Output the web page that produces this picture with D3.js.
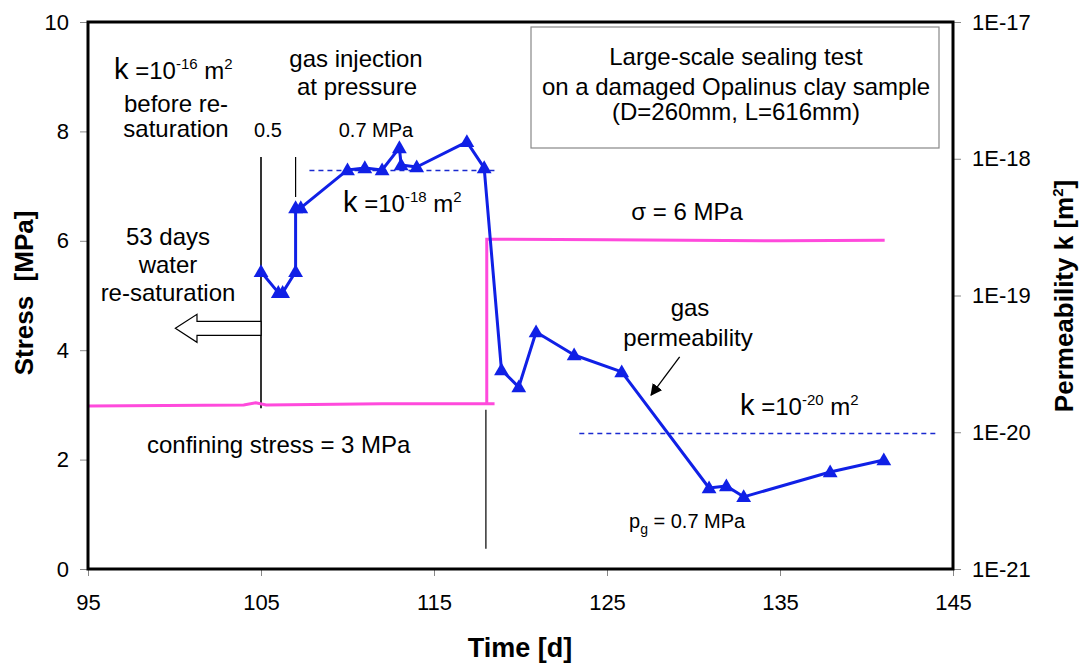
<!DOCTYPE html>
<html>
<head>
<meta charset="utf-8">
<script src="https://cdn.jsdelivr.net/npm/d3@7"></script>
<style>
  body { margin: 0; background: #fff; }
  text { font-family: "Liberation Sans", Arial, sans-serif; fill: #000; }
</style>
</head>
<body>
<div id="root"></div>
<script>
// Gas permeability measurements (time in days, k in m^2)
const permTime = [105.0, 106.0, 106.25, 107.0, 107.0, 107.3, 110.0, 111.0, 112.0, 113.0, 113.1, 114.0,
  116.9, 117.9, 118.9, 119.9, 120.9, 123.1, 125.85, 130.9, 131.9, 132.9, 137.9, 141.0];
const permK = [1.49e-19, 1.05e-19, 1.05e-19, 1.49e-19, 4.37e-19, 4.37e-19, 8.28e-19, 8.57e-19, 8.28e-19,
  1.20e-18, 9.0e-19, 8.7e-19, 1.33e-18, 8.57e-19, 2.85e-20, 2.14e-20, 5.41e-20, 3.67e-20, 2.76e-20,
  3.91e-21, 4.05e-21, 3.37e-21, 5.12e-21, 6.27e-21];

// Confining stress (MPa), null = gap
const stressTime = [95, 104, 104.7, 105.3, 112, 118.5, null, 118.05, 118.05, 125, 135, 141.05];
const stressVal = [2.98, 3.0, 3.04, 3.0, 3.02, 3.02, null, 3.02, 6.03, 6.02, 6.0, 6.01];

// reference permeability levels [k, tStart, tEnd]
const refK = [8.2e-19, 9.8e-21];
const refStart = [107.8, 123.4];
const refEnd = [118.6, 144.2];

// vertical marker lines (time, stress from, stress to)
const markerT = [105, 107, 118];
const markerFrom = [2.94, 6.8, 0.37];
const markerTo = [7.53, 7.53, 2.91];

// axis ticks
const timeTicks = [95, 105, 115, 125, 135, 145];
const stressTicks = [0, 2, 4, 6, 8, 10];
const permTicks = [1e-21, 1e-20, 1e-19, 1e-18, 1e-17];
const permTickLabels = ["1E-21", "1E-20", "1E-19", "1E-18", "1E-17"];

const W = 1083, H = 663;
const margin = { left: 88, right: 130, top: 22, bottom: 94 };
const iw = W - margin.left - margin.right;
const ih = H - margin.top - margin.bottom;

const svg = d3.select("#root").append("svg")
  .attr("width", W).attr("height", H);
const g = svg.append("g").attr("transform", `translate(${margin.left},${margin.top})`);

const x = d3.scaleLinear().domain([95, 145]).range([0, iw]);
const y = d3.scaleLinear().domain([0, 10]).range([ih, 0]);
const yk = d3.scaleLog().domain([1e-21, 1e-17]).range([ih, 0]);

const BLUE = "#1020e6";
const PINK = "#ff4adc";

// axes
const axL = g.append("g").call(d3.axisLeft(y).tickValues(stressTicks).tickSize(8).tickPadding(11));
const axB = g.append("g").attr("transform", `translate(0,${ih})`)
  .call(d3.axisBottom(x).tickValues(timeTicks).tickSize(7).tickPadding(18));
const axR = g.append("g").attr("transform", `translate(${iw},0)`)
  .call(d3.axisRight(yk).tickValues(permTicks).tickFormat((d, i) => permTickLabels[i]).tickSize(8).tickPadding(11));
[axL, axB, axR].forEach(a => {
  a.select(".domain").remove();
  a.selectAll(".tick line").attr("stroke", "#888").attr("stroke-width", 1);
  a.selectAll(".tick text").style("font-size", "22px").style("font-family", "Liberation Sans, Arial, sans-serif");
});

// marker lines
markerT.forEach((t, i) => {
  g.append("line")
    .attr("x1", x(t)).attr("x2", x(t))
    .attr("y1", y(markerFrom[i])).attr("y2", y(markerTo[i]))
    .attr("stroke", "#000").attr("stroke-width", i === 0 ? 1.6 : 1.2);
});

// hollow arrow pointing left (53 days re-saturation)
{
  const yc = y(4.4), tip = x(100.05), base = x(101.3), tail = x(105);
  const pts = [[tip, yc], [base, yc - 14], [base, yc - 7], [tail, yc - 7], [tail, yc + 7], [base, yc + 7], [base, yc + 14]];
  g.append("path").attr("d", d3.line()(pts) + "Z")
    .attr("fill", "#fff").attr("stroke", "#000").attr("stroke-width", 1.2);
}

// confining stress line
const stressLine = d3.line()
  .defined((d, i) => stressTime[i] !== null)
  .x((d, i) => x(stressTime[i])).y((d, i) => y(stressVal[i]));
g.append("path").datum(stressVal).attr("d", stressLine)
  .attr("fill", "none").attr("stroke", PINK).attr("stroke-width", 3);

// reference dashed lines
refK.forEach((k, i) => {
  g.append("line")
    .attr("x1", x(refStart[i])).attr("x2", x(refEnd[i]))
    .attr("y1", yk(k)).attr("y2", yk(k))
    .attr("stroke", "#1a2ad0").attr("stroke-width", 1.6).attr("stroke-dasharray", "5,4");
});

// permeability line + triangles
const permLine = d3.line().x((d, i) => x(permTime[i])).y(d => yk(d));
g.append("path").datum(permK).attr("d", permLine)
  .attr("fill", "none").attr("stroke", BLUE).attr("stroke-width", 3).attr("stroke-linejoin", "round");
g.selectAll(".tri").data(permK).join("path")
  .attr("class", "tri")
  .attr("d", d3.symbol(d3.symbolTriangle, 95))
  .attr("transform", (d, i) => `translate(${x(permTime[i])},${yk(d) + 1})`)
  .attr("fill", BLUE);

// small pointer arrow to gas permeability curve
svg.append("defs").append("marker")
  .attr("id", "ah").attr("viewBox", "0 0 10 10").attr("refX", 9).attr("refY", 5)
  .attr("markerWidth", 9).attr("markerHeight", 9).attr("orient", "auto-start-reverse")
  .append("path").attr("d", "M0,0L10,5L0,10Z").attr("fill", "#000");
g.append("line")
  .attr("x1", x(129.2)).attr("y1", y(3.88)).attr("x2", x(127.55)).attr("y2", y(3.18))
  .attr("stroke", "#000").attr("stroke-width", 1.3).attr("marker-end", "url(#ah)");

// frame
g.append("rect").attr("width", iw).attr("height", ih)
  .attr("fill", "none").attr("stroke", "#000").attr("stroke-width", 3);

// text box
svg.append("rect").attr("x", 531).attr("y", 27).attr("width", 408).attr("height", 121)
  .attr("fill", "#fff").attr("stroke", "#888").attr("stroke-width", 1.2);
[["Large-scale sealing test", 65], ["on a damaged Opalinus clay sample", 95], ["(D=260mm, L=616mm)", 120]]
  .forEach(([s, yy]) => svg.append("text").attr("x", 736).attr("y", yy)
    .attr("text-anchor", "middle").style("font-size", "24px").text(s));

// helper for plain labels
function label(xx, yy, s, size, anchor) {
  return svg.append("text").attr("x", xx).attr("y", yy)
    .attr("text-anchor", anchor || "middle").style("font-size", size + "px").text(s);
}

// k = 10^n m^2 labels
function kLabel(xx, yy, exp) {
  const t = svg.append("text").attr("x", xx).attr("y", yy);
  t.append("tspan").style("font-size", "29px").text("k");
  t.append("tspan").style("font-size", "24px").text(" =10");
  t.append("tspan").style("font-size", "15px").attr("dy", -10).text(exp);
  t.append("tspan").style("font-size", "24px").attr("dy", 10).text(" m");
  t.append("tspan").style("font-size", "15px").attr("dy", -10).text("2");
}
kLabel(114, 79, "-16");
kLabel(343, 212, "-18");
kLabel(740, 415, "-20");

label(176, 112, "before re-", 24);
label(176, 137, "saturation", 24);
label(268, 137, "0.5", 20);
label(356, 67, "gas injection", 24);
label(357, 95, "at pressure", 24);
label(376, 137, "0.7 MPa", 20);
label(687, 220, "σ = 6 MPa", 24);
label(168, 245, "53 days", 24);
label(168, 273, "water", 24);
label(168, 301, "re-saturation", 24);
label(690, 316, "gas", 24);
label(688, 346, "permeability", 24);
label(147, 453, "confining stress = 3 MPa", 24, "start");

{
  const t = svg.append("text").attr("x", 629).attr("y", 528).style("font-size", "20px");
  t.append("tspan").text("p");
  t.append("tspan").style("font-size", "14px").attr("dy", 6).text("g");
  t.append("tspan").attr("dy", -6).text(" = 0.7 MPa");
}

// axis titles
svg.append("text").attr("x", 520).attr("y", 657).attr("text-anchor", "middle")
  .style("font-size", "27px").style("font-weight", "bold").text("Time [d]");
svg.append("text").attr("transform", "translate(33,293) rotate(-90)").attr("text-anchor", "middle")
  .style("font-size", "26px").style("font-weight", "bold").attr("xml:space", "preserve").text("Stress  [MPa]");
{
  const t = svg.append("text").attr("transform", "translate(1073,296) rotate(-90)").attr("text-anchor", "middle")
    .style("font-size", "26px").style("font-weight", "bold");
  t.append("tspan").text("Permeability k [m");
  t.append("tspan").style("font-size", "15px").attr("dy", -10).text("2");
  t.append("tspan").attr("dy", 10).text("]");
}
</script>
</body>
</html>
